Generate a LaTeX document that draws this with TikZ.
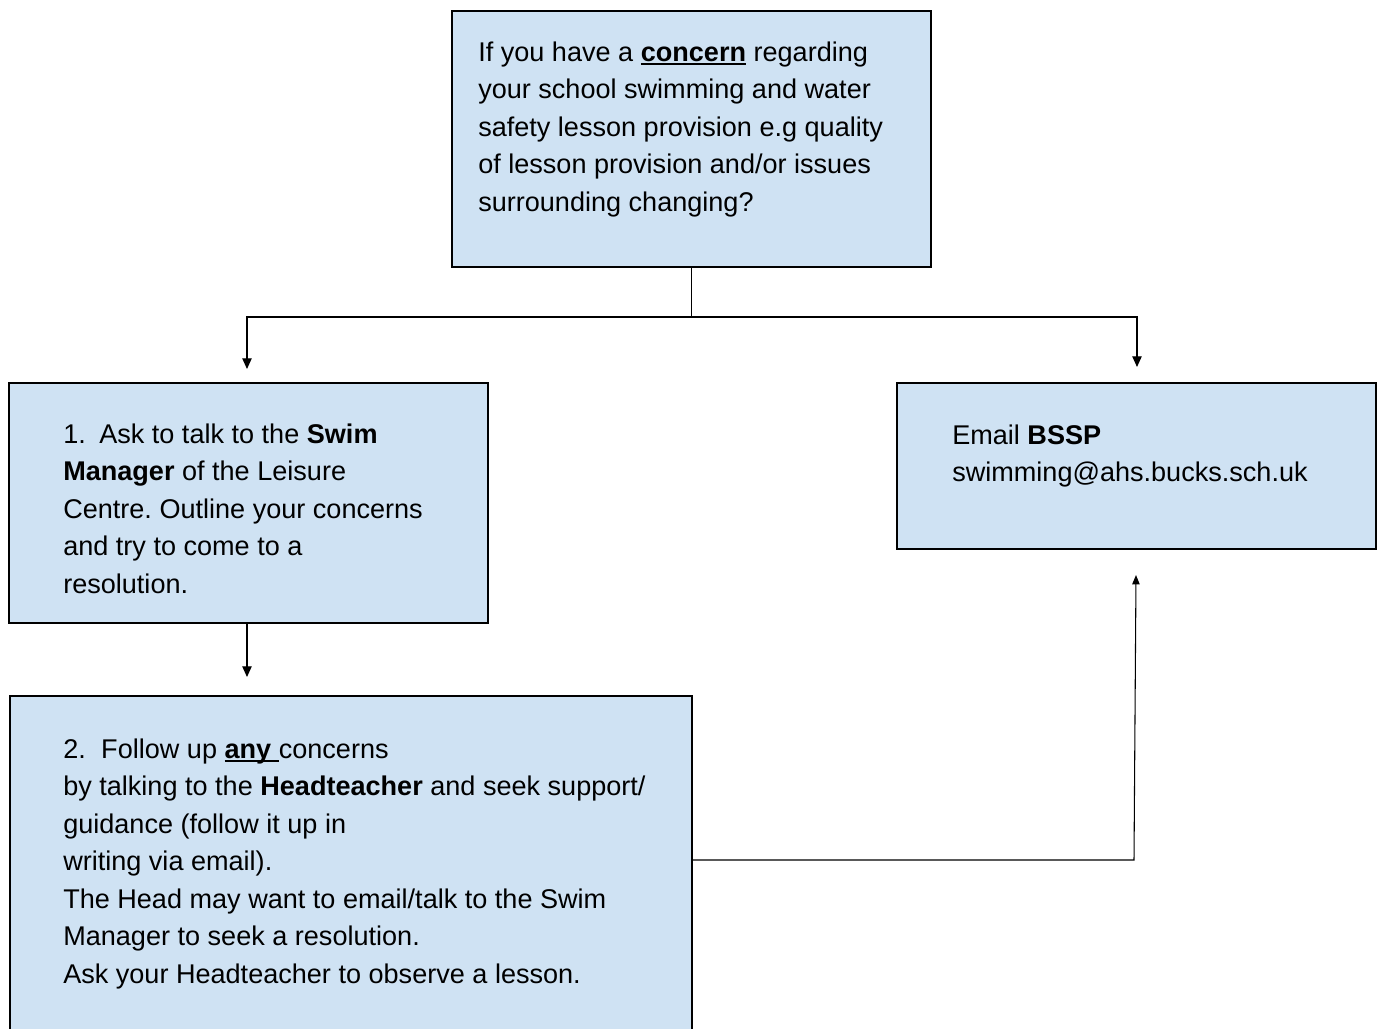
\documentclass[tikz,border=0pt]{standalone}
\usepackage{fontspec}
\setmainfont{Liberation Sans}
\usetikzlibrary{arrows.meta,fit}
\definecolor{boxfill}{HTML}{CFE2F3}
\newcommand\ulx[1]{\setbox0\hbox{#1}\rlap{\rule[-2.8pt]{\wd0}{1.3pt}}\box0\relax}
\newcommand\txt[2]{\parbox[t]{#1}{\raggedright\frenchspacing\fontsize{20.3pt}{28.125pt}\selectfont #2}}
\tikzset{
  box/.style={draw=black, line width=1.1pt, fill=boxfill, inner sep=0pt},
  lbl/.style={anchor=base west, inner sep=0pt},
  conn/.style={draw=black, line width=0.95pt},
  arr/.style={conn, -{Triangle[length=8pt,width=7pt]}},
  arrthin/.style={draw=black, line width=0.8pt, -{Triangle[length=7pt,width=5.5pt]}}
}
\begin{document}
\begin{tikzpicture}[x=0.75pt,y=-0.75pt]
\clip (0,0) rectangle (1381,1028);
\fill[white] (0,0) rectangle (1381,1028);
% boxes
\node[box, fit={(452,11) (931,267)}] (top) {};
\node[box, fit={(9,383) (488,623)}] (box1) {};
\node[box, fit={(897,383) (1376,549)}] (bssp) {};
\node[box, fit={(10,696) (692,1040)}] (box2) {};
% texts
\node[lbl] (ttop) at (478,61) {\txt{400pt}{If you have a \ulx{\textbf{concern}} regarding\\
your school swimming and water\\
safety lesson provision e.g quality\\
of lesson provision and/or issues\\
surrounding changing?}};
\node[lbl] (tbox1) at (63,443) {\txt{400pt}{\makebox[27pt][l]{1.}Ask to talk to the \textbf{Swim}\\
\textbf{Manager} of the Leisure\\
Centre. Outline your concerns\\
and try to come to a\\
resolution.}};
\node[lbl] (tbssp) at (952,444) {\txt{400pt}{Email \textbf{BSSP}\\
swimming@ahs.bucks.sch.uk}};
\node[lbl] (tbox2) at (63,758) {\txt{520pt}{\makebox[28.5pt][l]{2.}Follow up \ulx{\textbf{any} }concerns\\
by talking to the \textbf{Headteacher} and seek support/\\
guidance (follow it up in\\
writing via email).\\
The Head may want to email/talk to the Swim\\
Manager to seek a resolution.\\
Ask your Headteacher to observe a lesson.}};
% connectors
\coordinate (j) at (691.5,317);
\coordinate (a1) at (247,369);
\coordinate (a2) at (1137,367);
\coordinate (a3) at (247,677);
\coordinate (b) at (1134,860);
\coordinate (a4) at (1136,575);
\draw[conn] (top.south -| j) -- (j);
\draw[arr] (j) -| (a1);
\draw[arr] (j) -| (a2);
\draw[arr] (a3 |- box1.south) -- (a3);
\draw[arrthin] (box2.east |- b) -- (b) -- (a4);
\end{tikzpicture}
\end{document}
